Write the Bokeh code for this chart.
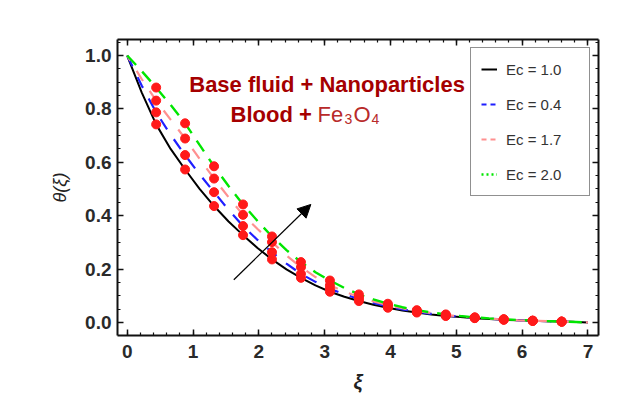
from bokeh.plotting import figure
from bokeh.models import (Range1d, LinearAxis, SingleIntervalTicker, PrintfTickFormatter,
                          CustomJSTickFormatter, Legend, LegendItem, Label, Arrow, NormalHead)
from bokeh.embed import file_html
from bokeh.resources import INLINE

# ---------------- data ----------------
xi = [0.00, 0.22, 0.44, 0.66, 0.88, 1.10, 1.32, 1.54, 1.76, 1.98, 2.20, 2.42, 2.64, 2.86,
      3.08, 3.30, 3.52, 3.74, 3.96, 4.18, 4.40, 4.62, 4.84, 5.06, 5.28, 5.50, 5.72, 5.94,
      6.16, 6.38, 6.60, 6.82, 7.00]

theta_ec10 = [1.000, 0.862, 0.742, 0.650, 0.573, 0.500, 0.436, 0.378, 0.327, 0.279, 0.236,
              0.199, 0.167, 0.139, 0.115, 0.096, 0.080, 0.066, 0.055, 0.045, 0.037, 0.030,
              0.024, 0.020, 0.016, 0.013, 0.010, 0.008, 0.006, 0.0045, 0.003, 0.0015, 0.000]
theta_ec04 = [1.000, 0.888, 0.787, 0.703, 0.627, 0.555, 0.488, 0.422, 0.361, 0.309, 0.263,
              0.220, 0.182, 0.152, 0.126, 0.105, 0.088, 0.073, 0.060, 0.049, 0.040, 0.032,
              0.026, 0.021, 0.017, 0.014, 0.011, 0.008, 0.006, 0.0045, 0.003, 0.0015, 0.000]
theta_ec17 = [1.000, 0.912, 0.831, 0.760, 0.689, 0.613, 0.539, 0.469, 0.403, 0.350, 0.301,
              0.251, 0.207, 0.170, 0.139, 0.116, 0.095, 0.079, 0.065, 0.053, 0.043, 0.035,
              0.028, 0.022, 0.018, 0.014, 0.011, 0.008, 0.006, 0.0045, 0.003, 0.0015, 0.000]
theta_ec20 = [1.000, 0.942, 0.880, 0.815, 0.746, 0.665, 0.585, 0.511, 0.442, 0.380, 0.322,
              0.271, 0.226, 0.188, 0.157, 0.129, 0.105, 0.086, 0.070, 0.057, 0.046, 0.037,
              0.030, 0.024, 0.019, 0.015, 0.012, 0.009, 0.007, 0.005, 0.003, 0.0015, 0.000]

labels = ["Ec = 1.0", "Ec = 0.4", "Ec = 1.7", "Ec = 2.0"]
series = [theta_ec10, theta_ec04, theta_ec17, theta_ec20]
x_ticks_interval = 1
y_ticks_interval = 0.2

# red markers sit on every second sample (xi = 0.44, 0.88, ... 6.60)
dot_idx = list(range(2, 31, 2))

# ---------------- figure ----------------
p = figure(width=643, height=397, output_backend="svg", toolbar_location=None,
           x_range=Range1d(-0.147, 7.16), y_range=Range1d(-0.049, 1.06),
           min_border_left=117, min_border_right=45, min_border_top=39, min_border_bottom=62,
           x_axis_label="ξ", y_axis_label="θ(ξ)")
p.grid.visible = False
p.outline_line_color = None
p.background_fill_color = "white"
p.border_fill_color = "white"

FONT = "Liberation Sans"

def style_axis(ax):
    ax.axis_line_width = 2
    ax.axis_line_color = "#111111"
    ax.major_tick_in = 6
    ax.major_tick_out = 0
    ax.minor_tick_in = 3
    ax.minor_tick_out = 0
    ax.major_tick_line_width = 1.5
    ax.minor_tick_line_width = 1.2
    ax.major_tick_line_color = "#111111"
    ax.minor_tick_line_color = "#111111"
    ax.major_label_text_font = FONT
    ax.major_label_text_font_style = "bold"
    ax.major_label_text_font_size = "19px"
    ax.major_label_text_color = "#2a2a2a"

xa = p.xaxis[0]
xa.ticker = SingleIntervalTicker(interval=x_ticks_interval, num_minor_ticks=5)
style_axis(xa)
xa.major_label_standoff = 9
xa.axis_label_standoff = 10
xa.axis_label_text_font = FONT
xa.axis_label_text_font_style = "bold italic"
xa.axis_label_text_font_size = "20px"
xa.axis_label_text_color = "#222222"

ya = p.yaxis[0]
ya.ticker = SingleIntervalTicker(interval=y_ticks_interval, num_minor_ticks=4)
ya.formatter = PrintfTickFormatter(format="%.1f")
style_axis(ya)
ya.major_label_standoff = 6
ya.axis_label_standoff = 12
ya.axis_label_text_font = FONT
ya.axis_label_text_font_style = "italic"
ya.axis_label_text_font_size = "18px"
ya.axis_label_text_color = "#222222"

blank = CustomJSTickFormatter(code="return ''")
top = LinearAxis(ticker=SingleIntervalTicker(interval=x_ticks_interval, num_minor_ticks=5),
                 formatter=blank)
style_axis(top)
top.major_label_standoff = 0
p.add_layout(top, "above")
right = LinearAxis(ticker=SingleIntervalTicker(interval=y_ticks_interval, num_minor_ticks=4),
                   formatter=blank)
style_axis(right)
right.major_label_standoff = 0
p.add_layout(right, "right")

# ---------------- curves ----------------
p.line(xi, theta_ec10, line_color="black", line_width=2)
p.line(xi, theta_ec04, line_color="#1f1fff", line_width=2.2, line_dash="12 12")
p.line(xi, theta_ec17, line_color="#ff9090", line_width=2.2, line_dash="12 12",
       line_dash_offset=6)
p.line(xi, theta_ec20, line_color="#00e600", line_width=2.4, line_dash="13 9")

for s in series:
    p.scatter([xi[i] for i in dot_idx], [s[i] for i in dot_idx], size=9,
              fill_color="#ff1a1a", line_color="#ff1a1a")

# legend samples (Mathematica style short dashes / dots); no visible data
nan2 = [float("nan"), float("nan")]
lg_black = p.line(nan2, nan2, line_color="black", line_width=2)
lg_blue = p.line(nan2, nan2, line_color="#1f1fff", line_width=2, line_dash="5 4")
lg_pink = p.line(nan2, nan2, line_color="#ff9090", line_width=2, line_dash="5 4")
lg_green = p.line(nan2, nan2, line_color="#00e600", line_width=2.5, line_dash="2 3")

legend = Legend(items=[LegendItem(label=l, renderers=[r]) for l, r in
                       zip(labels, [lg_black, lg_blue, lg_pink, lg_green])],
                location="top_right", margin=8, padding=10, spacing=13,
                glyph_width=16, glyph_height=22, label_height=22, label_width=73,
                label_standoff=9, label_text_font=FONT, label_text_font_size="15px",
                label_text_color="#333333", border_line_color="#222222",
                border_line_width=1.3, background_fill_color="white",
                background_fill_alpha=1.0)
p.add_layout(legend)

# ---------------- annotations ----------------
p.add_layout(Arrow(end=NormalHead(size=13, fill_color="black", line_color="black"),
                   x_start=1.62, y_start=0.16, x_end=2.79, y_end=0.442,
                   line_color="black", line_width=1.2))

p.add_layout(Label(x=3.037, y=0.891, text="Base fluid + Nanoparticles", text_align="center",
                   text_baseline="alphabetic", text_font=FONT, text_font_style="bold",
                   text_font_size="22px", text_color="#a50000"))
p.add_layout(Label(x=1.57, y=0.779, text="Blood +", text_align="left",
                   text_baseline="alphabetic", text_font=FONT, text_font_style="bold",
                   text_font_size="22px", text_color="#a50000"))
fe_x, fe_y = 2.892, 0.779
for txt, dx, dy, fs in [("Fe", 0, 0, "22px"), ("3", 27, -4, "14px"),
                        ("O", 36, 0, "22px"), ("4", 54, -4, "14px")]:
    p.add_layout(Label(x=fe_x, y=fe_y, x_offset=dx, y_offset=dy, text=txt,
                       text_align="left", text_baseline="alphabetic", text_font=FONT,
                       text_font_size=fs, text_color="#b82a2a"))

open("out.html", "w").write(file_html(p, INLINE))
